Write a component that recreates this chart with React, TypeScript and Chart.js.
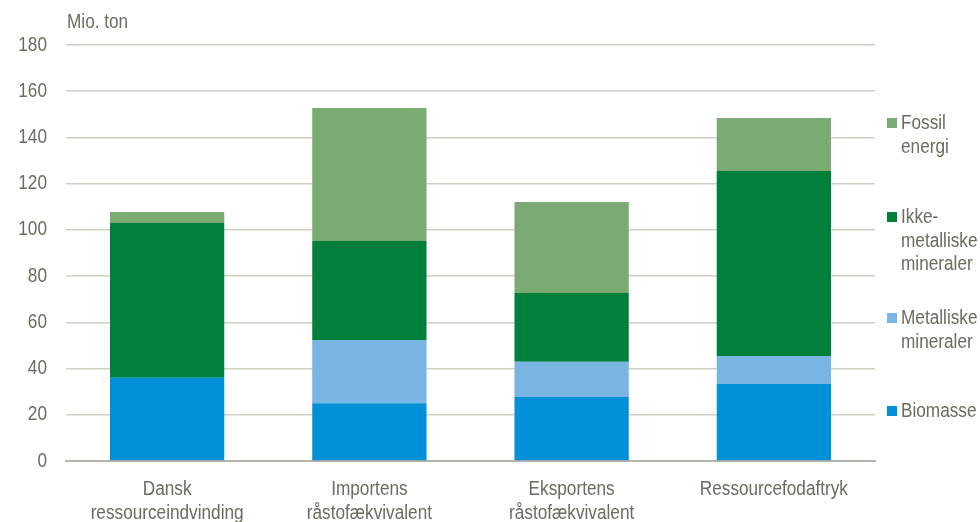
import React, { useEffect, useRef } from "react";
import { Chart, registerables } from "chart.js";

Chart.register(...registerables);

const categories: string[][] = [
  ["Dansk", "ressourceindvinding"],
  ["Importens", "råstofækvivalent"],
  ["Eksportens", "råstofækvivalent"],
  ["Ressourcefodaftryk"],
];
const biomasse = [36, 25, 27.7, 33.3];
const metalliske = [0, 27.4, 15.2, 12.1];
const ikkeMetalliske = [67, 42.8, 29.8, 80.1];
const fossil = [4.7, 57.5, 39.4, 22.9];
const yTicks = [0, 20, 40, 60, 80, 100, 120, 140, 160, 180];

const FONT = "'Liberation Sans', Arial, sans-serif";
const TEXT = "#6b6b5e";
const SX = 0.86;

const legendItems = [
  { lines: ["Fossil", "energi"], color: "#79ab72", top: 111 },
  { lines: ["Ikke-", "metalliske", "mineraler"], color: "#007f3a", top: 205 },
  { lines: ["Metalliske", "mineraler"], color: "#79b5e2", top: 306 },
  { lines: ["Biomasse"], color: "#0090d8", top: 399 },
];

function narrowText(ctx: any, text: string, x: number, y: number, align: string) {
  ctx.save();
  ctx.translate(x, y);
  ctx.scale(SX, 1);
  ctx.textAlign = align;
  ctx.fillText(text, 0, 0);
  ctx.restore();
}

export default function App() {
  const ref = useRef<HTMLCanvasElement>(null);
  useEffect(() => {
    if (!ref.current) return;
    const textPlugin = {
      id: "narrowText",
      afterDraw(chart: any) {
        const ctx = chart.ctx;
        ctx.save();
        ctx.font = `20px ${FONT}`;
        ctx.fillStyle = TEXT;
        ctx.textBaseline = "middle";
        narrowText(ctx, "Mio. ton", chart.chartArea.left + 1, 22, "left");
        const ys = chart.scales.y;
        ys.ticks.forEach((t: any) => {
          narrowText(ctx, String(t.value), ys.right - 19, ys.getPixelForValue(t.value), "right");
        });
        const xs = chart.scales.x;
        categories.forEach((lines, i) => {
          const x = xs.getPixelForTick(i);
          lines.forEach((l, j) => {
            narrowText(ctx, l, x, xs.top + 28 + j * 24, "center");
          });
        });
        ctx.restore();
      },
    };
    const chart = new Chart(ref.current, {
      type: "bar",
      data: {
        labels: categories.map((c) => c.join(" ")),
        datasets: [
          { label: "Biomasse", data: biomasse, backgroundColor: "#0090d8" },
          { label: "Metalliske mineraler", data: metalliske, backgroundColor: "#79b5e2" },
          { label: "Ikke-metalliske mineraler", data: ikkeMetalliske, backgroundColor: "#007f3a" },
          { label: "Fossil energi", data: fossil, backgroundColor: "#79ab72" },
        ],
      },
      options: {
        animation: false,
        responsive: false,
        maintainAspectRatio: false,
        layout: { padding: { top: 45, right: 105, left: 0, bottom: 0 } },
        plugins: {
          legend: { display: false },
          tooltip: { enabled: false },
          title: { display: false },
        },
        datasets: { bar: { barPercentage: 0.565, categoryPercentage: 1 } },
        scales: {
          x: {
            stacked: true,
            grid: { display: false, drawTicks: false },
            border: { display: true, color: "#b4b4a8", width: 2 },
            ticks: { display: false },
            afterFit(scale: any) {
              scale.height = 61;
            },
          },
          y: {
            stacked: true,
            min: 0,
            max: 180,
            afterBuildTicks(scale: any) {
              scale.ticks = yTicks.map((v) => ({ value: v }));
            },
            grid: { color: "#cfcfc4", lineWidth: 1.5, drawTicks: false },
            border: { display: false },
            ticks: { display: false },
            afterFit(scale: any) {
              scale.width = 66;
            },
          },
        },
      },
      plugins: [textPlugin],
    });
    return () => chart.destroy();
  }, []);

  return (
    <div style={{ position: "fixed", left: 0, top: 0, width: 980, height: 522, background: "#fff" }}>
      <canvas ref={ref} width={980} height={522} style={{ width: 980, height: 522 }} />
      {legendItems.map((it) => (
        <div
          key={it.lines.join(" ")}
          style={{ position: "absolute", left: 887, top: it.top, fontFamily: FONT, fontSize: 20, lineHeight: "23.5px", color: TEXT }}
        >
          <div style={{ position: "absolute", left: 0, top: 7, width: 10, height: 10, background: it.color }} />
          <div style={{ marginLeft: 14, whiteSpace: "nowrap", transform: `scaleX(${SX})`, transformOrigin: "left top" }}>
            {it.lines.map((l) => (
              <div key={l}>{l}</div>
            ))}
          </div>
        </div>
      ))}
    </div>
  );
}
